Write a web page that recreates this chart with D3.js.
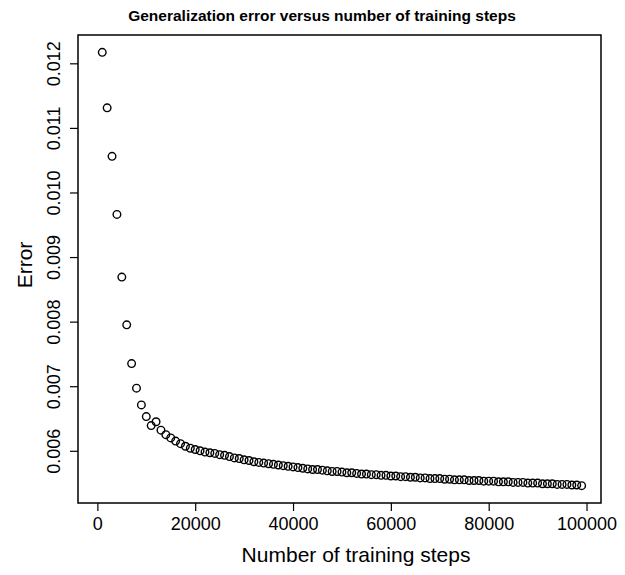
<!DOCTYPE html>
<html>
<head>
<meta charset="utf-8">
<script src="https://cdn.jsdelivr.net/npm/d3@7"></script>
<style>
  body { margin: 0; background: #fff; }
  text { font-family: "Liberation Sans", Arial, sans-serif; fill: #000; }
</style>
</head>
<body>
<svg width="625" height="575"></svg>
<script>
var svg = d3.select('svg');

// training steps (thousands) and the generalization error at each
var steps = d3.range(1, 100).map(function(k) { return k * 1000; });
var errors = [
    0.01217, 0.01131, 0.01056, 0.00966, 0.00869, 0.00795, 0.00735, 0.00697, 0.00671, 0.00653,
    0.00639, 0.00645, 0.00632, 0.00625, 0.00620, 0.00615, 0.00611, 0.00607, 0.00604, 0.00602,
    0.00600, 0.00598, 0.00597, 0.00596, 0.00594, 0.00593, 0.00591, 0.00589, 0.00588, 0.00586,
    0.00585, 0.00583, 0.00582, 0.00581, 0.00580, 0.00579, 0.00578, 0.00577, 0.00576, 0.00575,
    0.00574, 0.00573, 0.00572, 0.00571, 0.00571, 0.00570, 0.00569, 0.00568, 0.00568, 0.00567,
    0.00566, 0.00566, 0.00565, 0.00564, 0.00564, 0.00563, 0.00563, 0.00562, 0.00562, 0.00561,
    0.00561, 0.00560, 0.00560, 0.00559, 0.00559, 0.00558, 0.00558, 0.00557, 0.00557, 0.00557,
    0.00556, 0.00556, 0.00555, 0.00555, 0.00555, 0.00554, 0.00554, 0.00554, 0.00553, 0.00553,
    0.00553, 0.00552, 0.00552, 0.00552, 0.00551, 0.00551, 0.00551, 0.00550, 0.00550, 0.00550,
    0.00549, 0.00549, 0.00549, 0.00548, 0.00548, 0.00548, 0.00547, 0.00547, 0.00546
];
var xTicks = [0, 20000, 40000, 60000, 80000, 100000];
var yTicks = [0.006, 0.007, 0.008, 0.009, 0.010, 0.011, 0.012];

var dataset = steps.map(function(s, i) { return {step: s, error: errors[i]}; });

// plot region, like R's default box
var box = {l: 78, r: 601, t: 35, b: 503};

// R pads the data range by 4% on each side
var xMin = 0, xMax = d3.max(steps);
var xPad = (xMax - xMin) * 0.04;
var yExt = d3.extent(errors);
var yPad = (yExt[1] - yExt[0]) * 0.04;

var xScale = d3.scaleLinear()
    .domain([xMin - xPad, xMax + xPad])
    .range([box.l, box.r]);
var yScale = d3.scaleLinear()
    .domain([yExt[0] - yPad, yExt[1] + yPad])
    .range([box.b, box.t]);

// x axis
var xAxis = svg.append('g')
    .attr('transform', 'translate(0,' + box.b + ')')
    .call(d3.axisBottom(xScale)
        .tickValues(xTicks)
        .tickSize(8)
        .tickPadding(6)
        .tickFormat(d3.format('d')));
xAxis.select('.domain').attr('stroke', 'none');
xAxis.selectAll('.tick line').attr('stroke', '#000').attr('stroke-width', 1.2);
xAxis.selectAll('.tick text')
    .style('font-size', '18px')
    .attr('fill', '#000');

// y axis, labels turned like R's las=0
var yAxis = svg.append('g')
    .attr('transform', 'translate(' + box.l + ',0)')
    .call(d3.axisLeft(yScale)
        .tickValues(yTicks)
        .tickSize(8)
        .tickFormat(d3.format('.3f')));
yAxis.select('.domain').attr('stroke', 'none');
yAxis.selectAll('.tick line').attr('stroke', '#000').attr('stroke-width', 1.2);
yAxis.selectAll('.tick text')
    .attr('x', null)
    .attr('dy', null)
    .attr('transform', 'translate(-18,0) rotate(-90)')
    .attr('text-anchor', 'middle')
    .style('font-size', '18px')
    .attr('fill', '#000');

// box
svg.append('rect')
    .attr('x', box.l)
    .attr('y', box.t)
    .attr('width', box.r - box.l)
    .attr('height', box.b - box.t)
    .attr('fill', 'none')
    .attr('stroke', '#000')
    .attr('stroke-width', 1.5);

// points
svg.append('g').selectAll('circle')
    .data(dataset)
    .enter().append('circle')
    .attr('cx', function(d) { return xScale(d.step); })
    .attr('cy', function(d) { return yScale(d.error); })
    .attr('r', 3.8)
    .attr('fill', 'none')
    .attr('stroke', '#000')
    .attr('stroke-width', 1.4);

// titles
svg.append('text')
    .attr('x', 322)
    .attr('y', 21)
    .attr('text-anchor', 'middle')
    .style('font-size', '15.5px')
    .style('font-weight', 'bold')
    .text('Generalization error versus number of training steps');

svg.append('text')
    .attr('x', 356)
    .attr('y', 562)
    .attr('text-anchor', 'middle')
    .style('font-size', '21px')
    .text('Number of training steps');

svg.append('text')
    .attr('transform', 'translate(32,' + ((box.t + box.b) / 2 - 4) + ') rotate(-90)')
    .attr('text-anchor', 'middle')
    .style('font-size', '21px')
    .text('Error');
</script>
</body>
</html>
